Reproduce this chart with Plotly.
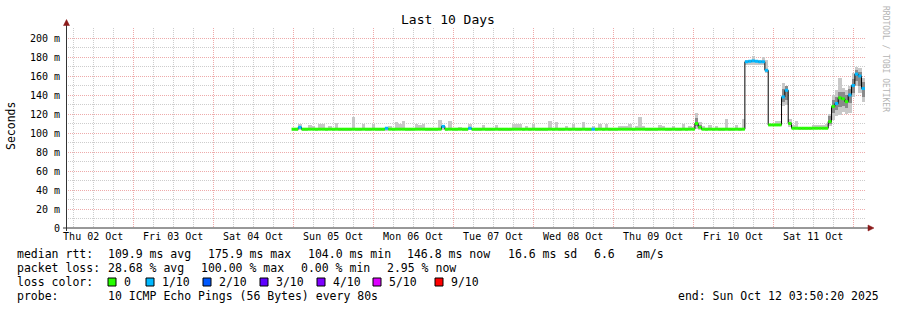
import plotly.graph_objects as go

# ---------------- data ----------------
# time buckets: hours since Sun 05 Oct 2025 00:00 (one bucket per hour)
hours = list(range(172))

median_ms = (
    [104, 104, 106, 104, 104, 104, 104, 104, 104, 104, 104, 104, 104, 104, 104, 104, 104, 104, 104, 104, 104, 104, 104, 104]
    + [104, 104, 104, 104, 105, 104, 104, 104, 104, 104, 104, 104, 104, 104, 104, 104, 104, 104, 104, 104, 104, 107, 104, 104]
    + [104, 104, 104, 104, 104, 105, 104, 104, 104, 104, 104, 104, 104, 104, 104, 104, 104, 104, 104, 104, 104, 104, 104, 104]
    + [104, 104, 104, 104, 104, 104, 104, 104, 104, 104, 104, 104, 104, 104, 104, 104, 104, 104, 104, 104, 104, 104, 104, 104]
    + [104, 104, 104, 104, 104, 104, 104, 104, 104, 104, 104, 104, 104, 104, 104, 104, 104, 104, 104, 104, 104, 104, 104, 104]
    + [104, 110, 106, 104, 104, 104, 104, 104, 104, 104, 104, 104, 104, 104, 104, 104, 175, 175.5, 175.9, 175.5, 175, 175, 166, 108.5]
    + [108.5, 108.5, 108.5, 138, 145, 110, 105, 105, 105, 105, 105, 105, 105, 105, 105, 105, 105, 112, 128, 131, 137, 136, 133, 140]
    + [150, 162, 160, 146.8]
)

# lost pings (out of 10) per bucket
loss = (
    [0, 0, 1, 0, 0, 0, 0, 0, 0, 0, 0, 0, 0, 0, 0, 0, 0, 0, 0, 0, 0, 0, 0, 0]
    + [0, 0, 0, 0, 1, 0, 0, 0, 0, 0, 0, 0, 0, 0, 0, 0, 0, 0, 0, 0, 0, 1, 0, 0]
    + [0, 0, 0, 0, 0, 1, 0, 0, 0, 0, 0, 0, 0, 0, 0, 0, 0, 0, 0, 0, 0, 0, 0, 0]
    + [0, 0, 0, 0, 0, 0, 0, 0, 0, 0, 0, 0, 0, 0, 0, 0, 0, 0, 1, 0, 0, 0, 0, 0]
    + [0, 0, 0, 0, 0, 0, 0, 0, 0, 0, 0, 0, 0, 0, 0, 0, 0, 0, 0, 0, 0, 0, 0, 0]
    + [0, 0, 0, 0, 0, 0, 0, 0, 0, 0, 0, 0, 0, 0, 0, 0, 1, 1, 1, 1, 1, 1, 1, 0]
    + [0, 0, 0, 1, 1, 0, 0, 0, 0, 0, 0, 0, 0, 0, 0, 0, 0, 0, 0, 1, 0, 0, 0, 1]
    + [1, 1, 1, 1]
)

# smoke (spread of the 10 pings): lowest and highest rtt per bucket, ms
smoke_lo = (
    [103, 103, 103, 103, 103, 103, 103, 103, 103, 103, 103, 103, 103, 103, 103, 103, 103, 103, 103, 103, 103, 103, 103, 103]
    + [103, 103, 103, 103, 103, 103, 103, 103, 103, 103, 103, 103, 103, 103, 103, 103, 103, 103, 103, 103, 103, 103, 103, 103]
    + [103, 103, 103, 103, 103, 103, 103, 103, 103, 103, 103, 103, 103, 103, 103, 103, 103, 103, 103, 103, 103, 103, 103, 103]
    + [103, 103, 103, 103, 103, 103, 103, 103, 103, 103, 103, 103, 103, 103, 103, 103, 103, 103, 103, 103, 103, 103, 103, 103]
    + [103, 103, 103, 103, 103, 103, 103, 103, 103, 103, 103, 103, 103, 103, 103, 103, 103, 103, 103, 103, 103, 103, 103, 103]
    + [103, 104, 103, 103, 103, 103, 103, 103, 103, 103, 103, 103, 103, 103, 103, 103, 172, 172, 172, 172, 172, 172, 163, 107]
    + [107, 107, 107, 128, 130, 106, 104, 104, 104, 104, 104, 104, 104, 104, 104, 104, 104, 107, 114, 118, 119, 122, 120, 121]
    + [138, 150, 142, 133]
)
smoke_hi = (
    [105, 105, 109.5, 105, 105, 108, 107, 105, 109, 109, 105, 107, 105, 111, 105, 105, 105, 105, 117, 105, 105, 109, 105, 105]
    + [109, 105, 105, 105, 105, 107, 105, 112, 109, 113, 105, 105, 105, 109, 108, 109, 105, 105, 105, 105, 113.5, 108, 105, 113]
    + [105, 105, 106.5, 105, 105, 109, 105, 105, 105, 108, 105, 105, 105, 108, 105, 105, 105, 105, 109.5, 109.5, 109, 105, 107, 105]
    + [109.5, 105, 105, 105, 105, 113, 105, 112, 105, 105, 107, 105, 109, 105, 105, 112, 105, 105, 107, 105, 109, 105, 110, 105]
    + [105, 105, 107, 107, 107, 109, 105, 107, 116.5, 107, 105, 105, 105, 105, 108, 107, 105, 105, 107, 105, 105, 109, 105, 107]
    + [106, 121, 112, 107, 105, 108, 105, 107, 105, 105, 115, 105, 105, 108, 105, 115, 177, 177, 181, 177, 177, 180, 177, 110]
    + [110, 112.5, 112.5, 153, 150, 115, 108, 112.5, 106, 106, 106, 106, 108.5, 108.5, 108.5, 108.5, 110, 120, 140, 145, 158, 147, 145, 149]
    + [163, 170, 168, 158]
)

# denser inner smoke where the pings are spread out
core_hours = [121, 122, 147, 148, 161, 162, 163, 164, 165, 166, 167, 168, 169, 170, 171]
core_lo = [107, 105, 133, 135, 110, 121, 124, 127, 128, 126, 132, 142, 155, 150, 138]
core_hi = [116, 108, 146, 149, 118, 135, 138, 143, 143, 140, 146, 157, 166, 164, 154]

day_ticks = [-48, -24, 0, 24, 48, 72, 96, 120, 144, 168]
label_hours = [-60, -36, -12, 12, 36, 60, 84, 108, 132, 156]
day_labels = ["Thu 02 Oct", "Fri 03 Oct", "Sat 04 Oct", "Sun 05 Oct", "Mon 06 Oct",
              "Tue 07 Oct", "Wed 08 Oct", "Thu 09 Oct", "Fri 10 Oct", "Sat 11 Oct"]
y_tickvals = [0, 20, 40, 60, 80, 100, 120, 140, 160, 180, 200]
y_ticktext = ["0", "20 m", "40 m", "60 m", "80 m", "100 m", "120 m", "140 m", "160 m", "180 m", "200 m"]

loss_names = ["0", "1/10", "2/10", "3/10", "4/10", "5/10", "9/10"]
loss_colors = ["#26ff00", "#00b8ff", "#0059ff", "#5e00ff", "#7e00ff", "#dd00ff", "#ff0000"]

rtt_stats = ["109.9 ms avg", "175.9 ms max", "104.0 ms min", "146.8 ms now", "16.6 ms sd", "6.6", "am/s"]
loss_stats = ["28.68 % avg", "100.00 % max", "0.00 % min", "2.95 % now"]
probe_text = "10 ICMP Echo Pings (56 Bytes) every 80s"
end_text = "end: Sun Oct 12 03:50:20 2025"

X_START = -68.161   # Thu 02 Oct 03:50:20
X_END = 171.839     # Sun 12 Oct 03:50:20

# ---------------- layout helpers ----------------
W, H = 897, 310
L, R, T, B = 66, 31, 28, 82
PW, PH = W - L - R, H - T - B
Y_TOP = PH / 0.95
MONO = "DejaVu Sans Mono"


def xp(px):
    return (px - L) / PW


def yp(py):
    return (T + PH - py) / PH


def bucket(n):
    if n >= 9:
        return 6
    if n >= 5:
        return 5
    return n


fig = go.Figure()

# outer smoke
fig.add_trace(go.Bar(
    x=hours, y=[h - l for h, l in zip(smoke_hi, smoke_lo)], base=smoke_lo, width=1,
    marker=dict(color="#c8c8c8", line=dict(width=0)), hoverinfo="skip", showlegend=False))
# inner smoke
fig.add_trace(go.Bar(
    x=core_hours, y=[h - l for h, l in zip(core_hi, core_lo)], base=core_lo, width=1,
    marker=dict(color="#8a8a8a", line=dict(width=0)), hoverinfo="skip", showlegend=False))

# black median line
fig.add_trace(go.Scatter(
    x=hours, y=median_ms, mode="lines", line=dict(color="#000000", width=1, shape="hvh"),
    hoverinfo="skip", showlegend=False))

# coloured median segments by loss
for k, col in enumerate(loss_colors):
    sx, sy = [], []
    for h, m, n in zip(hours, median_ms, loss):
        if bucket(n) == k:
            sx += [h - 0.5, h + 0.5, None]
            sy += [m, m, None]
    if sx:
        fig.add_trace(go.Scatter(x=sx, y=sy, mode="lines",
                                 line=dict(color=col, width=3),
                                 hoverinfo="skip", showlegend=False))

# dummy trace for label axis
fig.add_trace(go.Scatter(x=[X_START], y=[0], xaxis="x2", mode="markers",
                         marker=dict(opacity=0), hoverinfo="skip", showlegend=False))

GRID = "#cdcdcd"
MGRID = "#eeaaaa"

fig.update_layout(
    width=W, height=H,
    margin=dict(l=L, r=R, t=T, b=B, pad=0),
    paper_bgcolor="white", plot_bgcolor="white",
    barmode="overlay", bargap=0,
    showlegend=False,
    xaxis=dict(range=[X_START, X_END], tickmode="array", tickvals=day_ticks,
               showticklabels=False, showgrid=True, gridcolor=MGRID, gridwidth=1,
               griddash="1px,1px", zeroline=False, showline=False, ticks="",
               minor=dict(dtick=6, tick0=0, showgrid=True, gridcolor=GRID,
                          griddash="1px,1px", gridwidth=1)),
    xaxis2=dict(range=[X_START, X_END], overlaying="x", side="bottom", anchor="y",
                tickmode="array", tickvals=label_hours, ticktext=day_labels,
                showgrid=False, zeroline=False, showline=False, ticks="",
                ticklabelstandoff=1,
                tickfont=dict(family=MONO, size=10, color="#000000")),
    yaxis=dict(range=[0, Y_TOP], tickmode="array", tickvals=y_tickvals, ticktext=y_ticktext,
               showgrid=True, gridcolor=MGRID, gridwidth=1, griddash="1px,1px",
               zeroline=False, showline=False, ticks="", ticklabelstandoff=5,
               tickfont=dict(family=MONO, size=10, color="#000000"),
               minor=dict(dtick=10, tick0=0, showgrid=True, gridcolor=GRID,
                          griddash="1px,1px", gridwidth=1)),
)

shapes = []
AX = "#333333"
ARROW = "#8b1a1a"
# axis lines
shapes.append(dict(type="line", xref="paper", yref="paper", x0=xp(66.5), x1=xp(66.5),
                   y0=yp(231), y1=yp(25), line=dict(color=AX, width=1)))
shapes.append(dict(type="line", xref="paper", yref="paper", x0=xp(63), x1=xp(868),
                   y0=yp(228), y1=yp(228), line=dict(color=AX, width=1)))
# arrows
shapes.append(dict(type="path", xref="paper", yref="paper",
                   path=f"M {xp(63.5)} {yp(25.5)} L {xp(69.5)} {yp(25.5)} L {xp(66.5)} {yp(19.5)} Z",
                   fillcolor=ARROW, line=dict(color=ARROW, width=0.5)))
shapes.append(dict(type="path", xref="paper", yref="paper",
                   path=f"M {xp(868)} {yp(225)} L {xp(868)} {yp(231)} L {xp(874)} {yp(228)} Z",
                   fillcolor=ARROW, line=dict(color=ARROW, width=0.5)))

# legend colour boxes
box_left = [108, 146, 203, 260, 317, 373, 435]
label_left = [123, 161, 218, 275, 332, 388, 450]
for bx, col in zip(box_left, loss_colors):
    shapes.append(dict(type="rect", xref="paper", yref="paper",
                       x0=xp(bx), x1=xp(bx + 8), y0=yp(286), y1=yp(278),
                       fillcolor=col, line=dict(color="#000000", width=1)))
fig.update_layout(shapes=shapes)

ann = []


def text(px, py, s, size=11.5, anchor="left", color="#000000", angle=0):
    ann.append(dict(x=xp(px), y=yp(py), xref="paper", yref="paper", text=s,
                    showarrow=False, xanchor=anchor, yanchor="middle", borderpad=0,
                    textangle=angle, font=dict(family=MONO, size=size, color=color)))


text(448, 20, "Last 10 Days", size=13, anchor="center")
text(11, 126, "Seconds", size=11.5, anchor="center", angle=-90)
text(886, 59, "RRDTOOL / TOBI OETIKER", size=8, anchor="center", color="#b4b4b4", angle=90)

text(16, 254, "median rtt:")
for s, x in zip(rtt_stats, [107, 207, 307, 406, 507, 593, 635]):
    text(x, 254, s)
text(16, 268, "packet loss:")
for s, x in zip(loss_stats, [107, 200, 300, 386]):
    text(x, 268, s)
text(16, 282, "loss color:")
for s, x in zip(loss_names, label_left):
    text(x, 282, s)
text(16, 296, "probe:")
text(107, 296, probe_text)
text(880, 296, end_text, anchor="right")

fig.update_layout(annotations=ann)
fig.write_html("out.html")
